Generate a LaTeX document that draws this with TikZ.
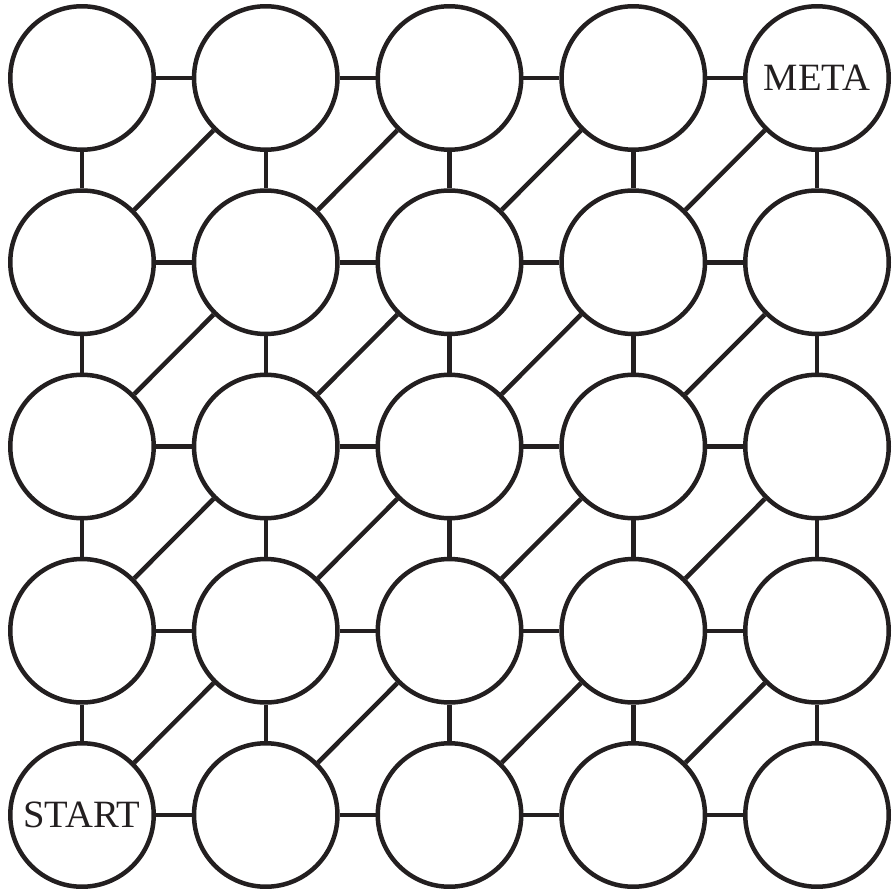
\documentclass[tikz,border=0pt]{standalone}
\usepackage{fontspec}
\setmainfont{Liberation Serif}
\usetikzlibrary{positioning}
\definecolor{ink}{HTML}{231F20}

\begin{document}
\begin{tikzpicture}[x=0.02cm, y=-0.02cm,
  cell/.style={circle, draw=ink, line width=0.09cm, minimum size=2.87cm, inner sep=0pt},
  tag/.style={font=\fontsize{22}{26}\selectfont, text=ink, inner sep=0pt},
  link/.style={draw=ink, line width=0.09cm}]
  \useasboundingbox (0,0) rectangle (892,895);

  % grid of cells, column \i, row \j counted from the bottom
  \foreach \i in {1,...,5}
    \foreach \j in {1,...,5}
      \node[cell] (n\i\j) at ({82+183.75*(\i-1)}, {815-184.25*(\j-1)}) {};

  \node[tag] (start) at (n11) {START};
  \node[tag] (meta) at (n55) {META};

  % horizontal and vertical links
  \foreach \i in {1,...,5}
    \foreach \j in {1,...,4} {
      \pgfmathtruncatemacro\k{\j+1}
      \draw[link] (n\i\j) -- (n\i\k);
      \draw[link] (n\j\i) -- (n\k\i);
    }

  % diagonal links
  \foreach \i in {1,...,4}
    \foreach \j in {1,...,4} {
      \pgfmathtruncatemacro\k{\i+1}
      \pgfmathtruncatemacro\l{\j+1}
      \draw[link] (n\i\j) -- (n\k\l);
    }
\end{tikzpicture}
\end{document}
